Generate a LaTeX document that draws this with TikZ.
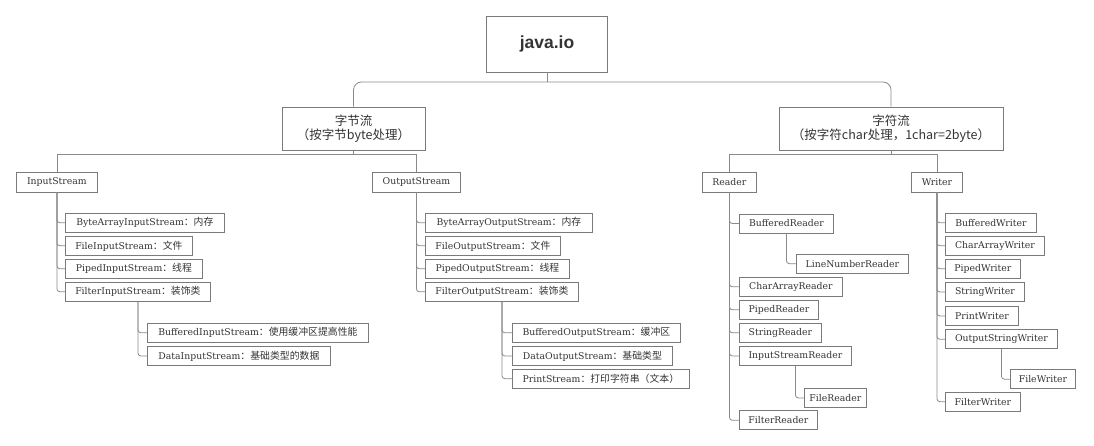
\documentclass[tikz,border=0pt]{standalone}
\usepackage{fontspec}
\setmainfont{DejaVu Serif}
\newfontfamily\cjkhead{Noto Sans CJK SC}
\newfontfamily\cjk[Scale=1.06]{Noto Sans CJK SC}
\newfontfamily\hdrfont{Liberation Sans}
\definecolor{linec}{HTML}{8A8A8A}
\definecolor{boxc}{HTML}{7A7A7A}
\definecolor{txt}{HTML}{333333}
\tikzset{
  leaf/.style={draw=boxc, line width=0.8pt, anchor=west, minimum height=19pt,
    inner xsep=2pt, inner ysep=0pt, text=txt, font=\fontsize{9.3}{11}\selectfont},
  cls/.style={leaf, minimum height=20pt},
  hdr/.style={draw=boxc, line width=0.8pt, align=center, text=txt,
    font=\cjkhead\fontsize{12.5}{14.5}\selectfont, inner sep=0pt},
  conn/.style={draw=linec, line width=0.8pt, rounded corners=3pt},
  bus/.style={draw=linec, line width=0.8pt},
}
\begin{document}
\begin{tikzpicture}[x=1pt,y=-1pt]
\useasboundingbox (0,0) rectangle (1094,446);
% top level
\node[draw=boxc, line width=0.8pt, minimum width=121pt, minimum height=56pt,
  font=\hdrfont\bfseries\fontsize{17.5}{20}\selectfont, text=txt] (java) at (547,44) {java.io};
\node[hdr, minimum width=143pt, minimum height=43pt] (bytes) at (353.5,128.5) {字节流\\（按字节byte处理）};
\node[hdr, minimum width=224pt, minimum height=43pt] (chars) at (891,128.5) {字符流\\（按字符char处理，1char=2byte）};
\coordinate (busy) at (0,82);
\coordinate (bary) at (0,154);
\draw[bus] (java.south) -- (java.south |- busy);
\draw[bus, rounded corners=8pt] (bytes.north) -- (bytes.north |- busy) -- (chars.north |- busy) -- (chars.north);
% second level
\node[cls, minimum width=81pt] (in) at (16,182) {InputStream};
\node[cls, minimum width=88pt] (out) at (372,182) {OutputStream};
\node[cls, minimum width=54pt] (rd) at (702,182) {Reader};
\node[cls, minimum width=51pt] (wr) at (911,182) {Writer};
\draw[bus] (bytes.south) -- (bytes.south |- bary);
\draw[bus] (in.north) -- (in.north |- bary) -- (out.north |- bary) -- (out.north);
\draw[bus] (chars.south) -- (chars.south |- bary);
\draw[bus] (rd.north) -- (rd.north |- bary) -- (wr.north |- bary) -- (wr.north);
% InputStream children
\node[leaf, minimum width=159pt] (bais) at (65,222.8) {ByteArrayInputStream{\cjk ：内存}};
\node[leaf, minimum width=127pt] (fis) at (65,245.8) {FileInputStream{\cjk ：文件}};
\node[leaf, minimum width=137pt] (pis) at (65,268.8) {PipedInputStream{\cjk ：线程}};
\node[leaf, minimum width=145pt] (filis) at (65,291.8) {FilterInputStream{\cjk ：装饰类}};
\node[leaf, minimum width=221pt] (bis) at (147,332.8) {BufferedInputStream{\cjk ：使用缓冲区提高性能}};
\node[leaf, minimum width=183pt] (dis) at (147,356) {DataInputStream{\cjk ：基础类型的数据}};
\foreach \c in {bais,fis,pis,filis} \draw[conn] (in.south) |- (\c.west);
\foreach \c in {bis,dis} \draw[conn] (filis.south) |- (\c.west);
% OutputStream children
\node[leaf, minimum width=167pt] (baos) at (425,222.8) {ByteArrayOutputStream{\cjk ：内存}};
\node[leaf, minimum width=135pt] (fos) at (425,245.8) {FileOutputStream{\cjk ：文件}};
\node[leaf, minimum width=144pt] (pos) at (425,268.8) {PipedOutputStream{\cjk ：线程}};
\node[leaf, minimum width=153pt] (filos) at (425,291.8) {FilterOutputStream{\cjk ：装饰类}};
\node[leaf, minimum width=168pt] (bos) at (512,332.8) {BufferedOutputStream{\cjk ：缓冲区}};
\node[leaf, minimum width=160pt] (dos) at (512,356) {DataOutputStream{\cjk ：基础类型}};
\node[leaf, minimum width=177pt] (ps) at (512,378.7) {PrintStream{\cjk ：打印字符串（文本）}};
\foreach \c in {baos,fos,pos,filos} \draw[conn] (out.south) |- (\c.west);
\foreach \c in {bos,dos,ps} \draw[conn] (filos.south) |- (\c.west);
% Reader children
\node[leaf, minimum width=94pt] (br) at (739,223.5) {BufferedReader};
\node[leaf, minimum width=112pt] (lnr) at (796,263.7) {LineNumberReader};
\node[leaf, minimum width=103pt] (car) at (739,286.8) {CharArrayReader};
\node[leaf, minimum width=79pt] (pr) at (739,309.8) {PipedReader};
\node[leaf, minimum width=82pt] (sr) at (739,332.8) {StringReader};
\node[leaf, minimum width=112pt] (isr) at (739,356) {InputStreamReader};
\node[leaf, minimum width=62pt] (fr) at (804,398) {FileReader};
\node[leaf, minimum width=78pt] (filr) at (739,420.3) {FilterReader};
\foreach \c in {br,car,pr,sr,isr,filr} \draw[conn] (rd.south) |- (\c.west);
\draw[conn] (br.south) |- (lnr.west);
\draw[conn] (isr.south) |- (fr.west);
% Writer children
\node[leaf, minimum width=91pt] (bw) at (945,222.8) {BufferedWriter};
\node[leaf, minimum width=99pt] (caw) at (945,245.8) {CharArrayWriter};
\node[leaf, minimum width=75pt] (pw) at (945,268.8) {PipedWriter};
\node[leaf, minimum width=79pt] (sw) at (945,292) {StringWriter};
\node[leaf, minimum width=73pt] (prw) at (945,316) {PrintWriter};
\node[leaf, minimum width=112pt] (osw) at (945,339.3) {OutputStringWriter};
\node[leaf, minimum width=65pt] (fw) at (1010,379.2) {FileWriter};
\node[leaf, minimum width=75pt] (filw) at (945,401.7) {FilterWriter};
\foreach \c in {bw,caw,pw,sw,prw,osw,filw} \draw[conn] (wr.south) |- (\c.west);
\draw[conn] (osw.south) |- (fw.west);
\end{tikzpicture}
\end{document}
